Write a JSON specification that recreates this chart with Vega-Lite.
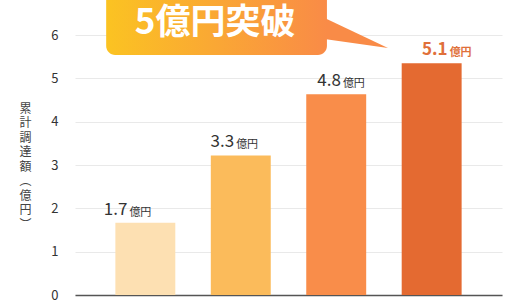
{
  "$schema": "https://vega.github.io/schema/vega-lite/v6.json",
  "autosize": {"type": "none"},
  "width": 427,
  "height": 260,
  "padding": {"left": 75, "top": 35, "right": 18, "bottom": 5},
  "background": "white",
  "config": {
    "view": {"stroke": null},
    "font": "Noto Sans CJK JP"
  },
  "datasets": {
    "bars": [
      {"cat": "A", "value": 1.67, "num": "1.7", "unit": "億円"},
      {"cat": "B", "value": 3.22, "num": "3.3", "unit": "億円"},
      {"cat": "C", "value": 4.63, "num": "4.8", "unit": "億円"},
      {"cat": "D", "value": 5.35, "num": "5.1", "unit": "億円"}
    ],
    "box": [{"x": 7.3, "x2": 59.0, "y": 5.54, "y2": 7.4}],
    "pointer": [
      {"x": 55.5, "ytop": 6.53, "ybot": 5.95},
      {"x": 73.3, "ytop": 5.70, "ybot": 5.70}
    ],
    "callout": [{"x": 32.8, "y": 6.28, "label": "5億円突破"}]
  },
  "resolve": {"scale": {"x": "independent"}, "axis": {"x": "independent"}},
  "layer": [
    {
      "data": {"name": "bars"},
      "mark": {"type": "bar"},
      "encoding": {
        "x": {
          "field": "cat", "type": "nominal", "sort": null,
          "scale": {"paddingInner": 0.372, "paddingOuter": 0.423},
          "axis": {"title": null, "labels": false, "ticks": false, "domain": true, "domainColor": "#555555", "domainWidth": 1.5, "grid": false}
        },
        "y": {
          "field": "value", "type": "quantitative",
          "scale": {"domain": [0, 6], "nice": false},
          "axis": {
            "values": [0, 1, 2, 3, 4, 5, 6],
            "title": ["累", "計", "調", "達", "額", "︵", "億", "円", "︶"],
            "titleAngle": 0,
            "titleFontSize": 12,
            "titleFontWeight": "normal",
            "titleColor": "#444444",
            "titleLineHeight": 14.5,
            "titleAlign": "center",
            "titleBaseline": "top",
            "titleX": -50,
            "titleY": 68,
            "labelFontSize": 13,
            "labelColor": "#333333",
            "labelPadding": 17,
            "ticks": false,
            "domain": false,
            "grid": true,
            "gridColor": "#e9e9e9",
            "gridWidth": 1
          }
        },
        "color": {
          "field": "cat", "type": "nominal", "legend": null,
          "scale": {"domain": ["A", "B", "C", "D"], "range": ["#fde0b2", "#fbbb5b", "#f98d4a", "#e46a31"]}
        }
      }
    },
    {
      "data": {"name": "bars"},
      "transform": [{"filter": "datum.cat !== 'D'"}],
      "mark": {"type": "text", "align": "right", "baseline": "bottom", "dx": -1, "dy": -4, "fontSize": 17, "color": "#333333"},
      "encoding": {
        "x": {"field": "cat", "type": "nominal", "sort": null, "scale": {"domain": ["A", "B", "C", "D"], "paddingInner": 0.372, "paddingOuter": 0.423}, "axis": null},
        "y": {"field": "value", "type": "quantitative"},
        "text": {"field": "num"}
      }
    },
    {
      "data": {"name": "bars"},
      "transform": [{"filter": "datum.cat !== 'D'"}],
      "mark": {"type": "text", "align": "left", "baseline": "bottom", "dx": 1, "dy": -5, "fontSize": 11, "color": "#333333"},
      "encoding": {
        "x": {"field": "cat", "type": "nominal", "sort": null, "scale": {"domain": ["A", "B", "C", "D"], "paddingInner": 0.372, "paddingOuter": 0.423}, "axis": null},
        "y": {"field": "value", "type": "quantitative"},
        "text": {"field": "unit"}
      }
    },
    {
      "data": {"name": "bars"},
      "transform": [{"filter": "datum.cat === 'D'"}],
      "mark": {"type": "text", "align": "right", "baseline": "bottom", "dx": -1, "dy": -4, "fontSize": 17, "fontWeight": "bold", "color": "#e0703a"},
      "encoding": {
        "x": {"field": "cat", "type": "nominal", "sort": null, "scale": {"domain": ["A", "B", "C", "D"], "paddingInner": 0.372, "paddingOuter": 0.423}, "axis": null},
        "y": {"field": "value", "type": "quantitative"},
        "text": {"field": "num"}
      }
    },
    {
      "data": {"name": "bars"},
      "transform": [{"filter": "datum.cat === 'D'"}],
      "mark": {"type": "text", "align": "left", "baseline": "bottom", "dx": 1, "dy": -5, "fontSize": 11, "fontWeight": "bold", "color": "#e0703a"},
      "encoding": {
        "x": {"field": "cat", "type": "nominal", "sort": null, "scale": {"domain": ["A", "B", "C", "D"], "paddingInner": 0.372, "paddingOuter": 0.423}, "axis": null},
        "y": {"field": "value", "type": "quantitative"},
        "text": {"field": "unit"}
      }
    },
    {
      "data": {"name": "pointer"},
      "mark": {"type": "area", "color": "#f98b47", "clip": false, "orient": "vertical"},
      "encoding": {
        "x": {"field": "x", "type": "quantitative", "scale": {"domain": [0, 100], "nice": false, "zero": false}, "axis": null},
        "y": {"field": "ytop", "type": "quantitative"},
        "y2": {"field": "ybot"}
      }
    },
    {
      "data": {"name": "box"},
      "mark": {
        "type": "rect", "cornerRadius": 9, "clip": false,
        "color": {
          "x1": 0, "y1": 0, "x2": 1, "y2": 0,
          "gradient": "linear",
          "stops": [{"offset": 0, "color": "#fbc322"}, {"offset": 1, "color": "#f98b47"}]
        }
      },
      "encoding": {
        "x": {"field": "x", "type": "quantitative", "scale": {"domain": [0, 100], "nice": false, "zero": false}, "axis": null},
        "x2": {"field": "x2"},
        "y": {"field": "y", "type": "quantitative"},
        "y2": {"field": "y2"}
      }
    },
    {
      "data": {"name": "callout"},
      "mark": {"type": "text", "align": "center", "baseline": "middle", "fontSize": 35, "fontWeight": "bold", "color": "white", "clip": false},
      "encoding": {
        "x": {"field": "x", "type": "quantitative", "scale": {"domain": [0, 100], "nice": false, "zero": false}, "axis": null},
        "y": {"field": "y", "type": "quantitative"},
        "text": {"field": "label"}
      }
    }
  ]
}
